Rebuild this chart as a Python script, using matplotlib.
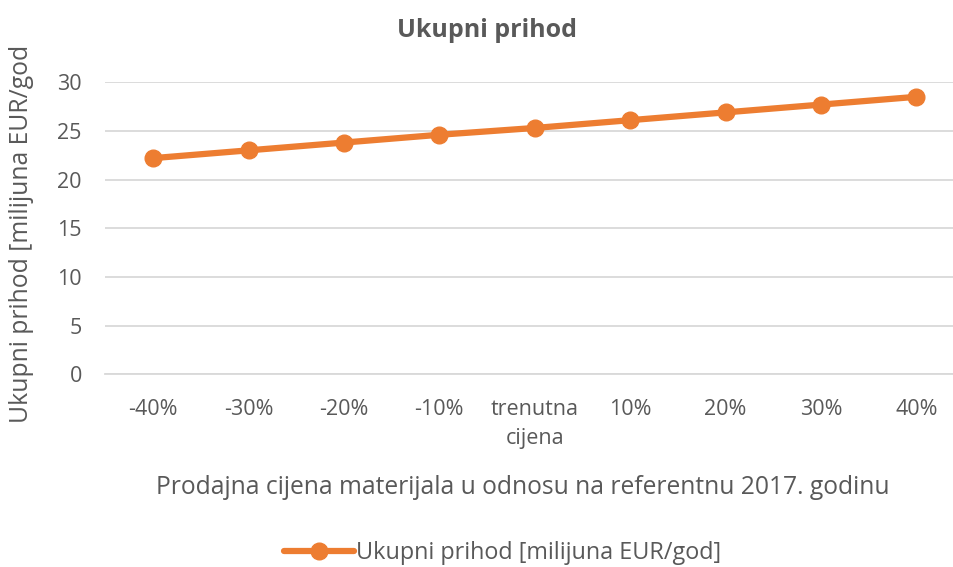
import matplotlib.pyplot as plt

categories = ["-40%", "-30%", "-20%", "-10%", "trenutna\ncijena", "10%", "20%", "30%", "40%"]
prihod = [22.2, 23.0, 23.8, 24.6, 25.3, 26.1, 26.9, 27.7, 28.5]

plt.rcParams['font.family'] = ['Open Sans', 'DejaVu Sans']
grey = "#595959"
orange = "#ED7D31"

fig = plt.figure(figsize=(9.54, 5.67), dpi=100)
ax = fig.add_axes([0.1105, 0.34, 0.900, 0.515])

x = range(len(categories))
ax.plot(x, prihod, color=orange, linewidth=4.5, marker="o", markersize=12,
        label="Ukupni prihod [milijuna EUR/god]", solid_capstyle="round")

ax.set_xlim(-0.5, len(categories) - 0.5)
ax.set_ylim(0, 30)
ax.set_yticks(range(0, 31, 5))
ax.set_xticks(list(x))
ax.set_xticklabels(categories, fontsize=15.5, color=grey, linespacing=1.5)
ax.tick_params(axis="y", labelsize=15.5, colors=grey, length=0, pad=17)
ax.tick_params(axis="x", length=0, pad=18, colors=grey)
ax.grid(axis="y", color="#D9D9D9", linewidth=1.3)
ax.set_axisbelow(True)
for s in ["top", "right", "left"]:
    ax.spines[s].set_visible(False)
ax.spines["bottom"].set_color("#D9D9D9")
ax.spines["bottom"].set_linewidth(1.3)

fig.text(0.511, 0.947, "Ukupni prihod", fontsize=18, fontweight="bold", color=grey,
         ha="center", va="center")
ax.set_ylabel("Ukupni prihod [milijuna EUR/god", fontsize=17.8, color=grey)
ax.yaxis.set_label_coords(-0.083, 0.48)
ax.set_xlabel("Prodajna cijena materijala u odnosu na referentnu 2017. godinu",
              fontsize=17.7, color=grey)
ax.xaxis.set_label_coords(0.486, -0.345)

leg = fig.legend(loc="center", bbox_to_anchor=(0.527, 0.025), frameon=False,
                 fontsize=16.8, handlelength=3.0, handletextpad=0.1)
for t in leg.get_texts():
    t.set_color(grey)

fig.savefig("out.png", dpi=100)
